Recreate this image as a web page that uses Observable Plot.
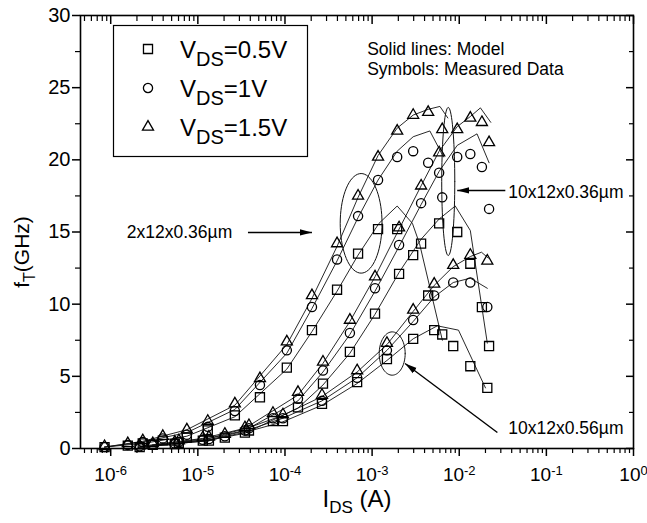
<!DOCTYPE html>
<html>
<head>
<meta charset="utf-8">
<script src="https://cdn.jsdelivr.net/npm/d3@7"></script>
<script src="https://cdn.jsdelivr.net/npm/@observablehq/plot@0.6"></script>
<style>
html,body{margin:0;padding:0;background:#fff;}
#chart svg{display:block;}
</style>
</head>
<body>
<div id="chart"></div>
<script>
// ---------- measured data (I_DS in A, fT in GHz) ----------
// device 2x12x0.36um
const I_A   = [8.5e-7,1.57e-6,2.33e-6,3.96e-6,7.48e-6,1.30e-5,2.66e-5,5.16e-5,1.05e-4,2.04e-4,3.96e-4,6.90e-4,1.17e-3,1.94e-3,2.96e-3,4.40e-3,6.38e-3];
const fA_15 = [0.15,0.35,0.55,0.85,1.3,1.9,3.1,4.85,7.4,10.6,14.2,17.5,20.2,22.0,23.1,23.3,22.1];
const fA_10 = [0.1,0.25,0.45,0.7,0.95,1.5,2.6,4.4,6.8,9.8,13.1,16.1,18.6,20.2,20.6,19.8,17.4];
const fA_05 = [0.1,0.2,0.35,0.55,0.75,1.25,2.3,3.55,5.6,8.2,11.0,13.5,15.2,15.2,13.4,10.6,7.9];
// device 10x12x0.36um
const I_B   = [3.04e-6,6.05e-6,1.14e-5,2.04e-5,3.47e-5,7.28e-5,1.41e-4,2.73e-4,5.56e-4,1.08e-3,2.04e-3,3.65e-3,5.88e-3,9.48e-3,1.34e-2,1.82e-2,2.2e-2];
const fB_15 = [0.35,0.55,0.75,1.0,1.45,2.45,3.9,6.0,8.9,11.9,15.3,18.2,20.5,22.1,22.9,22.6,21.2];
const fB_10 = [0.3,0.45,0.6,0.85,1.25,2.1,3.45,5.4,8.0,11.1,14.1,17.0,19.1,20.2,20.4,19.5,16.6];
const fB_05 = [0.25,0.4,0.55,0.75,1.1,1.9,2.85,4.5,6.7,9.35,12.1,14.2,15.6,15.0,12.8,9.8,7.1];
// device 10x12x0.56um
const I_C   = [2.15e-6,5.44e-6,1.34e-5,3.86e-5,9.48e-5,2.66e-4,6.73e-4,1.48e-3,2.96e-3,5.16e-3,8.53e-3,1.34e-2,2.1e-2];
const fC_15 = [0.2,0.45,0.8,1.6,2.35,3.7,5.4,7.3,9.6,11.4,12.7,13.4,13.0];
const fC_10 = [0.15,0.35,0.65,1.4,2.1,3.3,4.9,6.8,8.9,10.6,11.5,11.5,9.8];
const fC_05 = [0.1,0.3,0.55,1.25,1.9,3.1,4.6,6.2,7.6,8.2,7.1,5.7,4.2];

// ---------- model curves ----------
const mI_A15 = [8.5e-7,2.33e-6,7.48e-6,2.66e-5,1.05e-4,2.04e-4,3.96e-4,6.9e-4,1.17e-3,1.94e-3,2.96e-3,4.4e-3,6.0e-3,7.4e-3];
const mF_A15 = [0.1,0.5,1.3,3.0,7.2,10.4,14.0,17.4,20.3,22.2,23.1,23.5,23.7,22.9];
const mI_A10 = [8.5e-7,2.33e-6,7.48e-6,2.66e-5,1.05e-4,2.04e-4,3.96e-4,6.9e-4,1.17e-3,1.94e-3,2.96e-3,4.6e-3,6.6e-3];
const mF_A10 = [0.1,0.45,1.1,2.7,6.6,9.7,13.0,16.0,18.6,20.6,21.6,22.0,20.2];
const mI_A05 = [8.5e-7,2.33e-6,7.48e-6,2.66e-5,1.05e-4,2.04e-4,3.96e-4,6.9e-4,1.2e-3,1.94e-3,2.9e-3,3.5e-3,6.4e-3];
const mF_A05 = [0.1,0.35,0.85,2.2,5.5,8.1,10.9,13.4,15.6,16.8,15.6,14.2,7.5];

const mI_B15 = [3.0e-6,1.14e-5,3.47e-5,1.41e-4,2.73e-4,5.56e-4,1.08e-3,2.04e-3,3.65e-3,5.88e-3,9.48e-3,1.34e-2,1.75e-2,2.3e-2];
const mF_B15 = [0.25,0.7,1.4,3.7,5.9,8.8,11.9,15.2,18.2,20.6,22.3,23.0,23.6,22.6];
const mI_B10 = [3.0e-6,1.14e-5,3.47e-5,1.41e-4,2.73e-4,5.56e-4,1.08e-3,2.04e-3,3.65e-3,5.88e-3,9.48e-3,1.6e-2,2.2e-2];
const mF_B10 = [0.2,0.6,1.25,3.3,5.3,7.9,10.9,14.0,16.9,19.2,21.0,21.8,19.8];
const mI_B05 = [3.0e-6,1.14e-5,3.47e-5,1.41e-4,2.73e-4,5.56e-4,1.08e-3,2.04e-3,3.65e-3,5.88e-3,9.0e-3,1.34e-2,2.1e-2];
const mF_B05 = [0.2,0.5,1.05,2.8,4.4,6.6,9.3,12.2,14.5,15.9,16.8,15.1,7.3];

const mI_C15 = [2.15e-6,1.34e-5,3.86e-5,9.48e-5,2.66e-4,6.73e-4,1.48e-3,2.96e-3,5.16e-3,8.53e-3,1.34e-2,1.8e-2,2.15e-2];
const mF_C15 = [0.15,0.7,1.45,2.3,3.6,5.3,7.2,9.5,11.3,12.6,13.3,13.6,13.2];
const mI_C10 = [2.15e-6,1.34e-5,3.86e-5,9.48e-5,2.66e-4,6.73e-4,1.48e-3,2.96e-3,5.16e-3,8.53e-3,1.34e-2,2.1e-2];
const mF_C10 = [0.12,0.6,1.3,2.1,3.3,4.9,6.8,8.8,10.5,11.5,11.8,11.1];
const mI_C05 = [2.15e-6,1.34e-5,3.86e-5,9.48e-5,2.66e-4,6.73e-4,1.48e-3,2.96e-3,5.6e-3,9.8e-3,2.0e-2];
const mF_C05 = [0.1,0.55,1.2,1.85,3.0,4.5,6.1,7.6,8.5,8.2,4.2];

// ---------- ticks ----------
const xMajor = [1e-6,1e-5,1e-4,1e-3,1e-2,1e-1,1];
const xMinorMant = [2,3,4,5,6,7,8,9];
const xMinorExp = [-7,-6,-5,-4,-3,-2,-1];
const yMajor = [0,5,10,15,20,25,30];
const yMinor = [2.5,7.5,12.5,17.5,22.5,27.5];

// ---------- annotations ----------
const legendLabels = ["0.5V","1V","1.5V"];
const deviceLabels = ["2x12x0.36\u00b5m","10x12x0.36\u00b5m","10x12x0.56\u00b5m"];
const labelI = [1.53e-6, 3.66e-2, 3.66e-2];
const labelF = [14.97, 17.74, 1.39];
const arrowI1 = [3.76e-5, 3.38e-2, 2.74e-2];
const arrowF1 = [14.97, 17.88, 1.11];
const arrowI2 = [2.04e-4, 9.48e-3, 2.39e-3];
const arrowF2 = [14.97, 17.88, 5.89];
// ellipses: centre (A, GHz), half-width (decades), half-height (GHz)
const ellCI = [7.48e-4, 7.48e-3, 1.70e-3];
const ellCF = [15.6, 18.5, 6.58];
const ellRX = [0.24, 0.075, 0.149];
const ellRY = [3.45, 5.13, 1.5];
const noteLines = ["Solid lines: Model", "Symbols: Measured Data"];
const noteI = [8.77e-4, 8.77e-4];
const noteF = [27.65, 26.3];

// ---------- build tables ----------
const series = [
  {I: I_A, f: fA_05, sym: "square"}, {I: I_A, f: fA_10, sym: "circle"}, {I: I_A, f: fA_15, sym: "triangle"},
  {I: I_B, f: fB_05, sym: "square"}, {I: I_B, f: fB_10, sym: "circle"}, {I: I_B, f: fB_15, sym: "triangle"},
  {I: I_C, f: fC_05, sym: "square"}, {I: I_C, f: fC_10, sym: "circle"}, {I: I_C, f: fC_15, sym: "triangle"}
];
const meas = series.flatMap(s => s.I.map((I, i) => ({I, f: s.f[i], sym: s.sym})));
const models = [
  ["A05", mI_A05, mF_A05], ["A10", mI_A10, mF_A10], ["A15", mI_A15, mF_A15],
  ["B05", mI_B05, mF_B05], ["B10", mI_B10, mF_B10], ["B15", mI_B15, mF_B15],
  ["C05", mI_C05, mF_C05], ["C10", mI_C10, mF_C10], ["C15", mI_C15, mF_C15]
];
const modelRows = models.flatMap(([id, I, f]) => I.map((v, i) => ({id, I: v, f: f[i]})));
const xMinor = xMinorExp.flatMap(e => xMinorMant.map(m => m * Math.pow(10, e))).filter(v => v >= 4.5e-7 && v < 1);
const ellRows = ellCI.flatMap((c, k) => d3.range(0, 73).map(j => {
  const t = j / 72 * 2 * Math.PI;
  return {id: k, I: Math.pow(10, Math.log10(c) + ellRX[k] * Math.cos(t)), f: ellCF[k] + ellRY[k] * Math.sin(t)};
}));
const arrows = arrowI1.map((v, i) => ({x1: v, y1: arrowF1[i], x2: arrowI2[i], y2: arrowF2[i]}));
const devText = deviceLabels.map((t, i) => ({t, I: labelI[i], f: labelF[i]}));
const notes = noteLines.map((t, i) => ({t, I: noteI[i], f: noteF[i]}));

const FONT = '"Liberation Sans", Arial, Helvetica, sans-serif';
const blank = () => "";

// filled arrowhead marker
function filledHead(color) {
  const m = document.createElementNS("http://www.w3.org/2000/svg", "marker");
  m.setAttribute("viewBox", "-12 -4 12 8");
  m.setAttribute("markerWidth", 12);
  m.setAttribute("markerHeight", 8);
  m.setAttribute("markerUnits", "userSpaceOnUse");
  m.setAttribute("orient", "auto");
  m.setAttribute("refX", 0);
  m.setAttribute("refY", 0);
  const p = document.createElementNS("http://www.w3.org/2000/svg", "path");
  p.setAttribute("d", "M-12,-3.2L0,0L-12,3.2Z");
  p.setAttribute("fill", color);
  p.setAttribute("stroke", "none");
  m.appendChild(p);
  return m;
}

const chart = Plot.plot({
  width: 647, height: 523,
  marginLeft: 80, marginRight: 14, marginTop: 15, marginBottom: 75,
  style: {fontFamily: FONT, background: "white", color: "black"},
  x: {type: "log", domain: [4.5e-7, 1], label: null},
  y: {domain: [0, 30], label: null},
  marks: [
    Plot.axisX({ticks: xMinor, anchor: "bottom", tickSize: 5, tickFormat: blank, label: null, strokeWidth: 1.2}),
    Plot.axisX({ticks: xMajor, anchor: "bottom", tickSize: 8, tickPadding: 11, fontSize: 19,
      tickFormat: d => String(Math.round(Math.log10(d))), label: null, strokeWidth: 1.5}),
    Plot.axisX({ticks: xMinor, anchor: "top", tickSize: 5, dy: 5, tickFormat: blank, label: null, strokeWidth: 1.2}),
    Plot.axisX({ticks: xMajor, anchor: "top", tickSize: 8, dy: 8, tickFormat: blank, label: null, strokeWidth: 1.5}),
    Plot.axisY({ticks: yMinor, anchor: "left", tickSize: 5, tickFormat: blank, label: null, strokeWidth: 1.2}),
    Plot.axisY({ticks: yMajor, anchor: "left", tickSize: 8, tickPadding: 2, fontSize: 20, label: null, strokeWidth: 1.5}),
    Plot.axisY({ticks: yMinor, anchor: "right", tickSize: 5, dx: -5, tickFormat: blank, label: null, strokeWidth: 1.2}),
    Plot.axisY({ticks: yMajor, anchor: "right", tickSize: 8, dx: -8, tickFormat: blank, label: null, strokeWidth: 1.5}),
    Plot.line(modelRows, {x: "I", y: "f", z: "id", stroke: "#111", strokeWidth: 0.9}),
    Plot.dot(meas.filter(d => d.sym === "square"), {x: "I", y: "f", symbol: "square", r: 5.1, fill: "none", stroke: "black", strokeWidth: 1.3}),
    Plot.dot(meas.filter(d => d.sym === "circle"), {x: "I", y: "f", symbol: "circle", r: 4.6, fill: "none", stroke: "black", strokeWidth: 1.3}),
    Plot.dot(meas.filter(d => d.sym === "triangle"), {x: "I", y: "f", symbol: "triangle", r: 4.1, fill: "none", stroke: "black", strokeWidth: 1.3}),
    Plot.line(ellRows, {x: "I", y: "f", z: "id", stroke: "#111", strokeWidth: 1}),
    Plot.link(arrows, {x1: "x1", y1: "y1", x2: "x2", y2: "y2", stroke: "black", strokeWidth: 1.4, markerEnd: filledHead}),
    Plot.text(devText, {x: "I", y: "f", text: "t", textAnchor: "start", lineAnchor: "middle", fontSize: 17.5, fill: "black"}),
    Plot.text(notes, {x: "I", y: "f", text: "t", textAnchor: "start", lineAnchor: "middle", fontSize: 17.5, fill: "black"}),
    Plot.frame({stroke: "black", strokeWidth: 1.6})
  ]
});

document.getElementById("chart").appendChild(chart);
const svg = d3.select(chart);

// superscript exponents on x tick labels
svg.selectAll('g[aria-label="x-axis tick label"] text').each(function () {
  const t = this.textContent;
  if (!t) return;
  const s = d3.select(this);
  s.text(null);
  s.append("tspan").text("10");
  s.append("tspan").attr("dy", "-0.48em").attr("font-size", 13).text(t);
});

// legend
const lg = svg.append("g").attr("font-family", FONT).attr("text-anchor", "start");
lg.append("rect").attr("x", 113.5).attr("y", 25.5).attr("width", 194).attr("height", 131)
  .attr("fill", "white").attr("stroke", "black").attr("stroke-width", 1.2);
const legSyms = [[d3.symbolSquare, 5.1], [d3.symbolCircle, 4.6], [d3.symbolTriangle, 4.1]];
legendLabels.forEach((lab, i) => {
  const cy = 49 + i * 39;
  lg.append("path").attr("d", d3.symbol(legSyms[i][0], legSyms[i][1] ** 2 * Math.PI)())
    .attr("transform", `translate(148,${cy})`).attr("fill", "none").attr("stroke", "black").attr("stroke-width", 1.3);
  const tx = lg.append("text").attr("x", 180).attr("y", cy + 9).attr("text-anchor", "start")
    .attr("font-size", 24).attr("fill", "black");
  tx.append("tspan").text("V");
  tx.append("tspan").attr("font-size", 20).attr("dy", 8).text("DS");
  tx.append("tspan").attr("dy", -8).text("=" + lab);
});

// axis titles
const xt = svg.append("text").attr("x", 357).attr("y", 507).attr("text-anchor", "middle")
  .attr("font-family", FONT).attr("font-size", 24).attr("fill", "black");
xt.append("tspan").text("I");
xt.append("tspan").attr("font-size", 17).attr("dy", 6).text("DS");
xt.append("tspan").attr("dy", -6).text("\u00a0(A)");

const yt = svg.append("text").attr("transform", "translate(29,252) rotate(-90)").attr("text-anchor", "middle")
  .attr("font-family", FONT).attr("font-size", 21).attr("fill", "black");
yt.append("tspan").text("f");
yt.append("tspan").attr("font-size", 16).attr("dy", 6).text("T");
yt.append("tspan").attr("dy", -6).text("(GHz)");
</script>
</body>
</html>
